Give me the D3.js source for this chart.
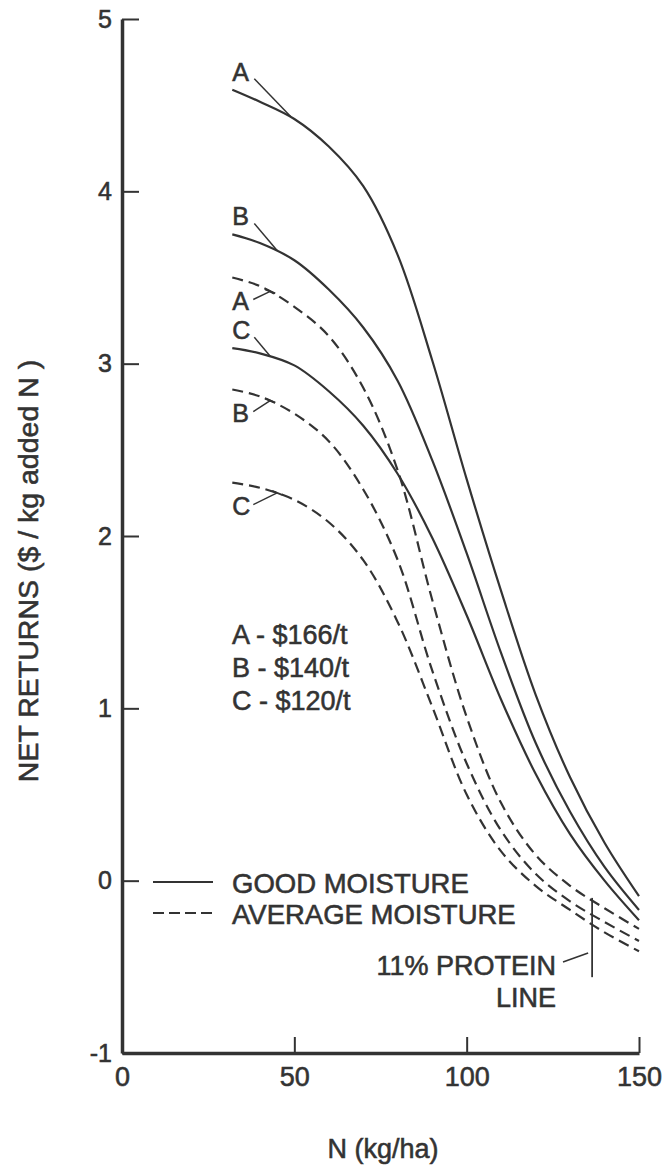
<!DOCTYPE html>
<html>
<head>
<meta charset="utf-8">
<script src="https://cdn.jsdelivr.net/npm/d3@7"></script>
<style>
  html, body { margin: 0; padding: 0; background: #fff; }
  svg { display: block; }
  text { font-family: "Liberation Sans", Arial, sans-serif; fill: #333; stroke: #333; stroke-width: 0.55px; }
</style>
</head>
<body>
<svg id="chart" width="667" height="1167"></svg>
<script>
// ---------------- data ----------------
const nValues = [32, 40, 50, 60, 70, 80, 90, 100, 110, 120, 130, 140, 150];

const goodA = [4.59, 4.52, 4.42, 4.26, 4.03, 3.63, 3.02, 2.33, 1.68, 1.08, 0.60, 0.22, -0.09];
const goodB = [3.75, 3.70, 3.60, 3.43, 3.21, 2.90, 2.44, 1.90, 1.32, 0.80, 0.40, 0.08, -0.17];
const goodC = [3.09, 3.06, 2.99, 2.84, 2.64, 2.36, 1.99, 1.54, 1.05, 0.62, 0.27, 0.00, -0.23];

const avgA = [3.50, 3.45, 3.33, 3.16, 2.86, 2.38, 1.63, 0.95, 0.45, 0.15, -0.03, -0.16, -0.28];
const avgB = [2.85, 2.81, 2.71, 2.55, 2.27, 1.86, 1.22, 0.68, 0.29, 0.04, -0.12, -0.24, -0.35];
const avgC = [2.31, 2.28, 2.21, 2.08, 1.86, 1.50, 1.01, 0.50, 0.17, -0.03, -0.17, -0.30, -0.41];

const seriesNames = ["A", "B", "C", "A", "B", "C"];
const seriesMoisture = ["good", "good", "good", "average", "average", "average"];
const seriesValues = [goodA, goodB, goodC, avgA, avgB, avgC];
const leaderN = [49, 45, 43, 43, 43, 45];

const xTicks = [0, 50, 100, 150];
const yTicks = [-1, 0, 1, 2, 3, 4, 5];

const priceLabels = ["A - $166/t", "B - $140/t", "C - $120/t"];
const legendLabels = ["GOOD MOISTURE", "AVERAGE MOISTURE"];
const proteinN = 136.4;
const proteinRange = [-0.10, -0.56];
const proteinLabel = ["11% PROTEIN", "LINE"];

const xTitle = "N (kg/ha)";
const yTitle = "NET RETURNS ($ / kg added N )";

// ---------------- drawing ----------------
const ink = "#333";
const svg = d3.select("#chart");

const x = d3.scaleLinear().domain([0, 150]).range([122, 639]);
const y = d3.scaleLinear().domain([-1, 5]).range([1053, 19]);

const fmt = d => String(d);

// axes
const yAxis = d3.axisLeft(y).tickValues(yTicks).tickFormat(fmt)
  .tickSizeInner(-17).tickSizeOuter(0).tickPadding(10);
const gy = svg.append("g").attr("transform", "translate(122,0)").call(yAxis);
gy.select(".domain").attr("stroke", ink).attr("stroke-width", 3.5);
gy.selectAll(".tick line").attr("stroke", ink).attr("stroke-width", 2);
gy.selectAll(".tick text").attr("font-size", 25).attr("fill", ink)
  .style("font-family", "'Liberation Sans', Arial, sans-serif");

const xAxis = d3.axisBottom(x).tickValues(xTicks).tickFormat(fmt)
  .tickSizeInner(-16).tickSizeOuter(0).tickPadding(14);
const gx = svg.append("g").attr("transform", "translate(0,1053)").call(xAxis);
gx.select(".domain").attr("stroke", ink).attr("stroke-width", 3.5);
gx.selectAll(".tick line").attr("stroke", ink).attr("stroke-width", 2)
  .attr("display", d => d === 0 ? "none" : null);
gx.selectAll(".tick text").attr("font-size", 27).attr("fill", ink)
  .style("font-family", "'Liberation Sans', Arial, sans-serif");

// axis titles
svg.append("text").attr("x", 383).attr("y", 1158).attr("text-anchor", "middle")
  .attr("font-size", 27).text(xTitle);
svg.append("text").attr("transform", "translate(38,571) rotate(-90)")
  .attr("text-anchor", "middle").attr("font-size", 28.5).text(yTitle);

// curves
const line = d3.line().x((d, i) => x(nValues[i])).y(d => y(d)).curve(d3.curveCatmullRom.alpha(0.5));
const paths = [];
seriesValues.forEach((vals, k) => {
  const p = svg.append("path").datum(vals).attr("d", line)
    .attr("fill", "none").attr("stroke", ink).attr("stroke-width", 2.2)
    .attr("stroke-dasharray", seriesMoisture[k] === "average" ? "11,6" : null);
  paths.push(p.node());
});

function pointAtX(node, px) {
  let lo = 0, hi = node.getTotalLength();
  for (let i = 0; i < 40; i++) {
    const mid = (lo + hi) / 2;
    if (node.getPointAtLength(mid).x < px) lo = mid; else hi = mid;
  }
  return node.getPointAtLength(lo);
}

// curve letter labels and leaders
seriesValues.forEach((vals, k) => {
  const sx = x(nValues[0]);
  const sy = y(vals[0]);
  const good = seriesMoisture[k] === "good";
  const base = good ? sy - 9 : sy + 32;
  svg.append("text").attr("x", sx).attr("y", base).attr("font-size", 25).text(seriesNames[k]);
  const target = pointAtX(paths[k], x(leaderN[k]));
  const start = good ? [sx + 22, base - 2] : [sx + 21, base - 10];
  svg.append("line").attr("x1", start[0]).attr("y1", start[1])
    .attr("x2", target.x).attr("y2", target.y)
    .attr("stroke", ink).attr("stroke-width", 1.5);
  if (!good) {
    // small cross tick where the leader meets a dashed curve
    svg.append("line").attr("x1", target.x - 5).attr("y1", target.y - 2)
      .attr("x2", target.x + 5).attr("y2", target.y + 2)
      .attr("stroke", ink).attr("stroke-width", 1.8);
  }
});

// price legend
priceLabels.forEach((t, i) => {
  svg.append("text").attr("x", 232).attr("y", 644 + i * 33).attr("font-size", 27).text(t);
});

// moisture legend
legendLabels.forEach((t, i) => {
  const ly = 882 + i * 31;
  svg.append("line").attr("x1", 153).attr("x2", 213).attr("y1", ly).attr("y2", ly)
    .attr("stroke", ink).attr("stroke-width", 2.2)
    .attr("stroke-dasharray", i === 1 ? "11,5" : null);
  svg.append("text").attr("x", 232).attr("y", ly + 11).attr("font-size", 27.5).text(t);
});

// 11% protein line
svg.append("line").attr("x1", x(proteinN)).attr("x2", x(proteinN))
  .attr("y1", y(proteinRange[0])).attr("y2", y(proteinRange[1]))
  .attr("stroke", ink).attr("stroke-width", 1.8);
svg.append("line").attr("x1", 563).attr("y1", 962).attr("x2", x(proteinN) - 4).attr("y2", 953)
  .attr("stroke", ink).attr("stroke-width", 1.5);
svg.append("text").attr("x", 556).attr("y", 975).attr("text-anchor", "end")
  .attr("font-size", 27).text(proteinLabel[0]);
svg.append("text").attr("x", 556).attr("y", 1007).attr("text-anchor", "end")
  .attr("font-size", 27).text(proteinLabel[1]);
</script>
</body>
</html>
